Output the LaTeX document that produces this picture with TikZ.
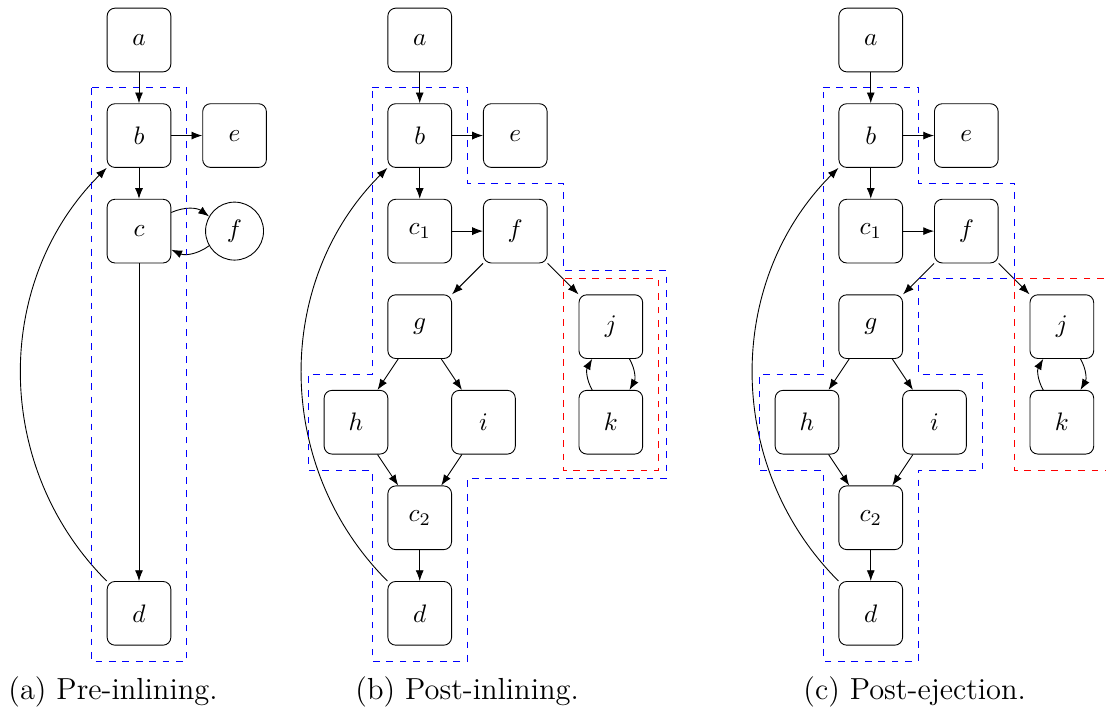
\RequirePackage{fix-cm}
\documentclass[tikz,border=0pt]{standalone}
\usetikzlibrary{arrows.meta}
\definecolor{regionblue}{rgb}{0,0,1}
\definecolor{cutred}{rgb}{1,0,0}

\begin{document}
\begin{tikzpicture}[x=1.5cm,y=1.5cm,
  blk/.style={draw,rounded corners=3.5pt,minimum size=1cm,inner sep=0pt,font=\fontsize{11.3}{13}\selectfont},
  crc/.style={draw,circle,minimum size=0.91cm,inner sep=0pt,font=\fontsize{11.3}{13}\selectfont},
  flow/.style={-{Latex}},
  region/.style={draw=regionblue,dash pattern=on 3pt off 3pt},
  cut/.style={draw=cutred,dash pattern=on 3pt off 3pt},
  capt/.style={anchor=base west,inner sep=0pt,font=\fontsize{13.6}{16}\selectfont}]
\useasboundingbox (0,0) rectangle (11.575,-7.441);

% (a) before inlining
\begin{scope}[shift={(1.4547,-0.4187)}]
\node[blk] (pa) at (0,0) {$a$};
\node[blk] (pb) at (0,-1) {$b$};
\node[blk] (pc) at (0,-2) {$c$};
\node[blk] (pd) at (0,-6) {$d$};
\node[blk] (pe) at (1,-1) {$e$};
\node[crc] (pf) at (1,-2) {$f$};
\draw[flow] (pa) -- (pb);
\draw[flow] (pb) -- (pe);
\draw[flow] (pb) -- (pc);
\draw[flow] (pc) -- (pd);
\draw[flow] (pc) to[bend left] (pf);
\draw[flow] (pf) to[bend left] (pc);
\draw[flow] (pd.north west) to[bend left=45] (pb.south west);
\draw[region] (-0.5,-0.5) rectangle (0.5,-6.5);
\end{scope}

% (b) and (c) share the inlined graph
\foreach \sx/\q in {4.3927/in,9.113/ej}{
\begin{scope}[shift={(\sx,-0.4187)}]
\node[blk] (\q a) at (0,0) {$a$};
\node[blk] (\q b) at (0,-1) {$b$};
\node[blk] (\q e) at (1,-1) {$e$};
\node[blk] (\q c1) at (0,-2) {$c_1$};
\node[blk] (\q f) at (1,-2) {$f$};
\node[blk] (\q g) at (0,-3) {$g$};
\node[blk] (\q j) at (2,-3) {$j$};
\node[blk] (\q h) at (-0.667,-4) {$h$};
\node[blk] (\q i) at (0.667,-4) {$i$};
\node[blk] (\q k) at (2,-4) {$k$};
\node[blk] (\q c2) at (0,-5) {$c_2$};
\node[blk] (\q d) at (0,-6) {$d$};
\draw[flow] (\q a) -- (\q b);
\draw[flow] (\q b) -- (\q e);
\draw[flow] (\q b) -- (\q c1);
\draw[flow] (\q c1) -- (\q f);
\draw[flow] (\q f) -- (\q g);
\draw[flow] (\q f) -- (\q j);
\draw[flow] (\q g) -- (\q h);
\draw[flow] (\q g) -- (\q i);
\draw[flow] (\q h) -- (\q c2);
\draw[flow] (\q i) -- (\q c2);
\draw[flow] (\q c2) -- (\q d);
\draw[flow] (\q j) to[bend left] (\q k);
\draw[flow] (\q k) to[bend left] (\q j);
\draw[flow] (\q d.north west) to[bend left=45] (\q b.south west);
\draw[cut] (1.5,-2.5) rectangle (2.5,-4.5);
\end{scope}}

% regions after inlining
\begin{scope}[shift={(4.3927,-0.4187)}]
\draw[region] (-0.5,-0.5) -- (0.5,-0.5) -- (0.5,-1.5) -- (1.5,-1.5) -- (1.5,-2.415)
  -- (2.585,-2.415) -- (2.585,-4.585) -- (0.5,-4.585) -- (0.5,-6.5) -- (-0.5,-6.5)
  -- (-0.5,-4.5) -- (-1.167,-4.5) -- (-1.167,-3.5) -- (-0.5,-3.5) -- cycle;
\end{scope}
% regions after ejection
\begin{scope}[shift={(9.113,-0.4187)}]
\draw[region] (-0.5,-0.5) -- (0.5,-0.5) -- (0.5,-1.5) -- (1.5,-1.5) -- (1.5,-2.5)
  -- (0.5,-2.5) -- (0.5,-3.5) -- (1.167,-3.5) -- (1.167,-4.5) -- (0.5,-4.5) -- (0.5,-6.5)
  -- (-0.5,-6.5) -- (-0.5,-4.5) -- (-1.167,-4.5) -- (-1.167,-3.5) -- (-0.5,-3.5) -- cycle;
\end{scope}

\node[capt] (capa) at (0.0837,-7.32) {(a) Pre-inlining.};
\node[capt] (capb) at (3.715,-7.32) {(b) Post-inlining.};
\node[capt] (capc) at (8.404,-7.32) {(c) Post-ejection.};
\end{tikzpicture}
\end{document}
